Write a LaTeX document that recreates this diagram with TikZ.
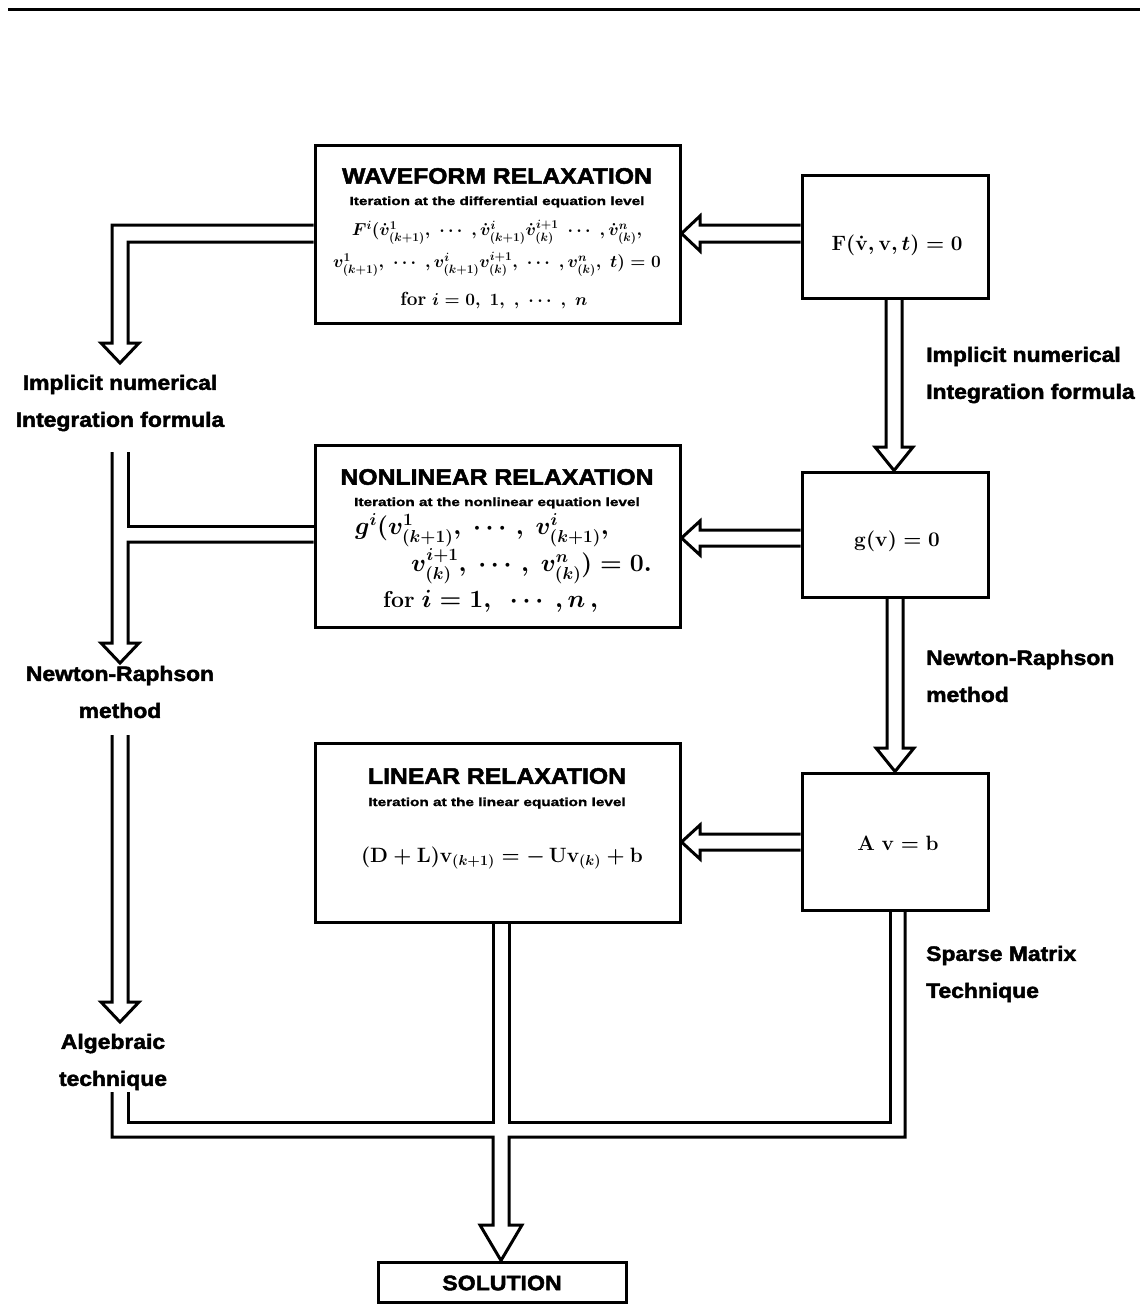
\documentclass[tikz,border=0pt]{standalone}
\usepackage{fontspec}
\usepackage{amsmath}
\newfontfamily\hv{Liberation Sans}[FakeStretch=1.1,FakeBold=2.2]
\newfontfamily\hvw{Liberation Sans}[FakeStretch=1.3,FakeBold=1.5]
\tikzset{
  box/.style={draw, line width=3pt, rectangle, inner sep=0pt},
  pipe/.style={line width=3pt, line join=miter},
  lbl/.style={font=\hv\bfseries\fontsize{20.8}{37}\selectfont, inner sep=0pt},
  ttl/.style={font=\hv\bfseries\fontsize{22.5}{24}\selectfont, inner sep=0pt},
  sub/.style={font=\hvw\bfseries\fontsize{11.8}{12}\selectfont, inner sep=0pt},
  mth/.style={font=\boldmath\fontsize{18}{20}\selectfont, inner sep=0pt},
  mthb/.style={font=\boldmath\fontsize{23}{26}\selectfont, inner sep=0pt},
  big/.style={font=\boldmath\fontsize{22}{26}\selectfont, inner sep=0pt}
}
\begin{document}
\begin{tikzpicture}[x=1pt,y=-1pt]
\useasboundingbox (0,0) rectangle (1142,1311);
\fill[white] (0,0) rectangle (1142,1311);
\draw[line width=3pt] (8,10) -- (1140,10);

% boxes
\node[box, minimum width=365pt, minimum height=178pt] (W) at (497.5,234) {};
\node[box, minimum width=365pt, minimum height=182pt] (NL) at (497.5,536) {};
\node[box, minimum width=365pt, minimum height=179pt] (L) at (497.5,832.5) {};
\node[box, minimum width=186pt, minimum height=123pt] (F) at (895,236.5) {};
\node[box, minimum width=186pt, minimum height=125pt] (G) at (895,534.5) {};
\node[box, minimum width=186pt, minimum height=137pt] (A) at (895,841.5) {};
\node[box, minimum width=248pt, minimum height=40pt] (S) at (502,1282) {};

% box texts
\node[ttl] (wt) at (497,176) {WAVEFORM RELAXATION};
\node[sub] (ws) at (497,202) {Iteration at the differential equation level};
\node[mth] (we1) at (497,232) {$F^{i}(\dot v^{1}_{(k+1)},\;\cdots\;,\dot v^{i}_{(k+1)}\dot v^{i+1}_{(k)}\;\cdots\;,\dot v^{n}_{(k)},$};
\node[mth] (we2) at (497,264) {$v^{1}_{(k+1)},\;\cdots\;,v^{i}_{(k+1)}v^{i+1}_{(k)},\;\cdots\;,v^{n}_{(k)},\;t)=0$};
\node[mth, font=\boldmath\fontsize{19}{22}\selectfont] (we3) at (494,301) {\textbf{for} $i=0,\ 1,\ ,\ \cdots\ ,\ n$};

\node[ttl] (nt) at (497,477) {NONLINEAR RELAXATION};
\node[sub] (ns) at (497,503) {Iteration at the nonlinear equation level};
\node[mthb, anchor=west] (ne1) at (355,530) {$g^{i}(v^{1}_{(k+1)},\ \cdots,\ v^{i}_{(k+1)},$};
\node[mthb, anchor=east] (ne2) at (652,566) {$v^{i+1}_{(k)},\ \cdots,\ v^{n}_{(k)})=0.$};
\node[mthb, anchor=west] (ne3) at (383,601) {\textbf{for} $i=1,\ \ \cdots\ ,n\,,$};

\node[ttl] (lt) at (497,776) {LINEAR RELAXATION};
\node[sub] (ls) at (497,803) {Iteration at the linear equation level};
\node[big] (le) at (502,858) {$(\mathbf{D}+\mathbf{L})\mathbf{v}_{(k+1)}=-\,\mathbf{U}\mathbf{v}_{(k)}+\mathbf{b}$};

\node[big] (ft) at (897,245) {$\mathbf{F}(\dot{\mathbf v},\mathbf v,t)=0$};
\node[big] (gt) at (897,541) {$\mathbf{g}(\mathbf{v})=0$};
\node[big] (at) at (898,843) {$\mathbf{A}\ \mathbf{v}=\mathbf{b}$};
\node[ttl, font=\hv\bfseries\fontsize{21}{22}\selectfont] (st) at (502,1283) {SOLUTION};

% side labels
\node[lbl, align=center] (l1) at (120,403) {Implicit numerical\\Integration formula};
\node[lbl, align=center] (l2) at (120,692) {Newton-Raphson\\method};
\node[lbl, align=center] (l3) at (113,1062) {Algebraic\\technique};
\node[lbl, align=left, anchor=west] (r1) at (926,375) {Implicit numerical\\Integration formula};
\node[lbl, align=left, anchor=west] (r2) at (926,676) {Newton-Raphson\\method};
\node[lbl, align=left, anchor=west] (r3) at (926,974) {Sparse Matrix\\Technique};

% right-to-left arrows
\draw[pipe] (F.west |- 0,225) -- (700,225) -- (700,216) -- (W.east |- 0,233.5) -- (700,251) -- (700,242) -- (F.west |- 0,242);
\draw[pipe] (G.west |- 0,530) -- (700,530) -- (700,521) -- (NL.east |- 0,538) -- (700,555) -- (700,546) -- (G.west |- 0,546);
\draw[pipe] (A.west |- 0,834) -- (700,834) -- (700,825) -- (L.east |- 0,842) -- (700,859) -- (700,850) -- (A.west |- 0,850);

% right vertical arrows
\draw[pipe] (F.south -| 886,0) -- (886,447) -- (875,447) -- (G.north -| 894,0) -- (913,447) -- (902,447) -- (F.south -| 902,0);
\draw[pipe] (G.south -| 887,0) -- (887,748) -- (876,748) -- (A.north -| 895,0) -- (914,748) -- (903,748) -- (G.south -| 903,0);

% left column
\draw[pipe] (W.west |- 0,225) -- (112,225) -- (112,343) -- (101,343) -- (120,363) -- (139,343) -- (128,343) -- (128,242) -- (W.west |- 0,242);
\draw[pipe] (112,452) -- (112,643) -- (101,643) -- (120,663) -- (139,643) -- (128,643) -- (128,542) -- (NL.west |- 0,542);
\draw[pipe] (128,452) -- (128,526) -- (NL.west |- 0,526);
\draw[pipe] (112,735) -- (112,1002) -- (101,1002) -- (120,1022) -- (139,1002) -- (128,1002) -- (128,735);

% bottom merge
\draw[pipe] (128,1092) -- (128,1122) -- (493,1122) -- (L.south -| 493,0);
\draw[pipe] (L.south -| 509,0) -- (509,1122) -- (890,1122) -- (A.south -| 890,0);
\draw[pipe] (112,1092) -- (112,1137) -- (493,1137) -- (493,1225) -- (480,1225) -- (S.north -| 501,0) -- (522,1225) -- (509,1225) -- (509,1137) -- (905,1137) -- (A.south -| 905,0);
\end{tikzpicture}
\end{document}
